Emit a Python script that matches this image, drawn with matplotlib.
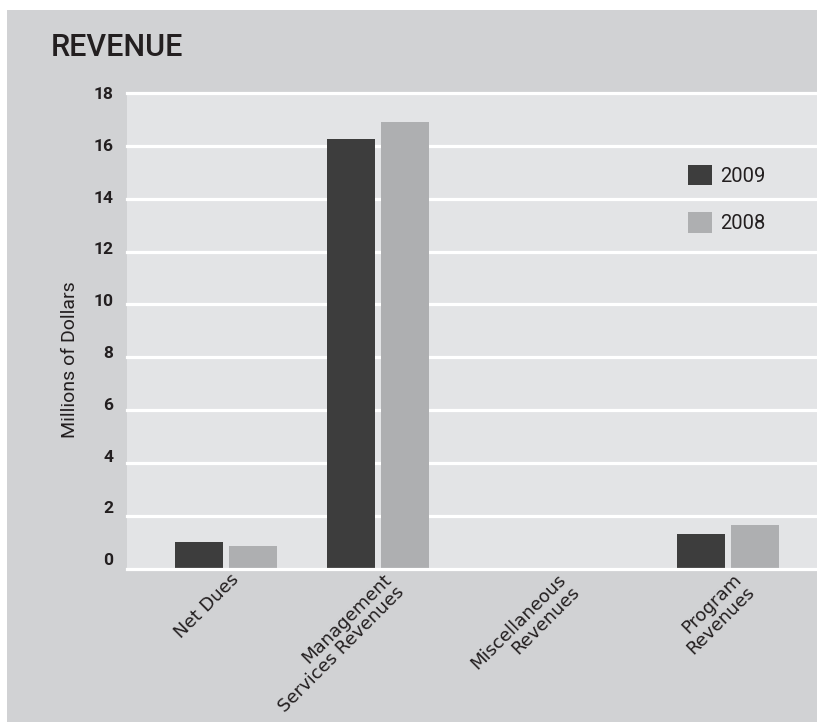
import matplotlib
matplotlib.use("Agg")
import matplotlib.pyplot as plt
import matplotlib.transforms as mtransforms
from matplotlib import font_manager
from matplotlib.patches import Rectangle
import numpy as np

# ---- data (millions of dollars) ----
categories = ["Net Dues", "Management\nServices Revenues", "Miscellaneous\nRevenues", "Program\nRevenues"]
series_names = ["2009", "2008"]
values_2009 = [1.01, 16.26, 0.0, 1.31]
values_2008 = [0.86, 16.90, 0.0, 1.65]
y_ticks = [0, 2, 4, 6, 8, 10, 12, 14, 16, 18]

# ---- styling ----
PANEL = "#d1d2d4"
PLOT_BG = "#e3e4e6"
DARK = "#3d3d3d"
LIGHT = "#aeafb1"
TEXT = "#231f20"

installed = {f.name for f in font_manager.fontManager.ttflist}
NARROW = "Liberation Sans Narrow" if "Liberation Sans Narrow" in installed else "Roboto"

W, H = 817, 723
fig = plt.figure(figsize=(W / 100, H / 100), dpi=100, facecolor="white")

# grey backing panel
fig.patches.append(Rectangle((7 / W, 1 / H), 810 / W, 712 / H, transform=fig.transFigure,
                             facecolor=PANEL, edgecolor="none", zorder=-10))

ax = fig.add_axes([127 / W, (H - 568.7) / H, 690 / W, 475.7 / H])
ax.set_facecolor(PLOT_BG)
for s in ax.spines.values():
    s.set_visible(False)

# group positions (uneven slot layout)
centers = np.array([0.0, 0.87, 1.87, 2.87])
bw = 0.274
off = 0.154
b1 = ax.bar(centers - off, values_2009, width=bw, color=DARK, zorder=2, label=series_names[0])
b2 = ax.bar(centers + off, values_2008, width=bw, color=LIGHT, zorder=2, label=series_names[1])

ax.set_xlim(-0.566, 3.377)
ax.set_ylim(0, 18)

# white horizontal rules
for v in y_ticks:
    ax.axhline(v, color="white", lw=2.3, zorder=3 if v == 0 else 1, clip_on=False)

ax.set_yticks([])
ax.tick_params(axis="both", length=0)

# category labels
ax.set_xticks(centers)
ax.set_xticklabels(categories, rotation=45, ha="right", rotation_mode="anchor",
                   multialignment="right", fontsize=13, color=TEXT,
                   family="DejaVu Sans", linespacing=1.05)
ax.tick_params(axis="x", pad=1)
shift = mtransforms.ScaledTranslation(4 / 100, 0, fig.dpi_scale_trans)
for lbl in ax.get_xticklabels():
    lbl.set_transform(lbl.get_transform() + shift)

# numeric scale labels on a companion axis
ax_lbl = ax.twinx()
ax_lbl.set_ylim(-0.37, 17.99)
ax_lbl.patch.set_visible(False)
for s in ax_lbl.spines.values():
    s.set_visible(False)
ax_lbl.yaxis.tick_left()
ax_lbl.set_yticks(y_ticks)
ax_lbl.set_yticklabels([str(v) for v in y_ticks], family=NARROW, fontweight="bold",
                       fontsize=12.5, color=TEXT)
ax_lbl.tick_params(axis="y", length=0, pad=10)

# legend
ax.legend(handles=[b1, b2], frameon=False, loc="upper left", bbox_to_anchor=(0.813, 0.849),
          borderaxespad=0, borderpad=0, handlelength=1.2, handleheight=1.2,
          labelspacing=1.3, handletextpad=0.38,
          prop={"family": NARROW, "size": 14.5}, labelcolor=TEXT)

# title and axis caption
fig.text(51 / W, 1 - 56 / H, "REVENUE", family=NARROW, fontsize=22, fontweight="medium",
         color=TEXT, ha="left", va="baseline")
fig.text(70 / W, 1 - 360 / H, "Millions of Dollars", family="Roboto", fontsize=14,
         color=TEXT, rotation=90, ha="center", va="center")

fig.savefig("out.png", dpi=100, facecolor="white")
